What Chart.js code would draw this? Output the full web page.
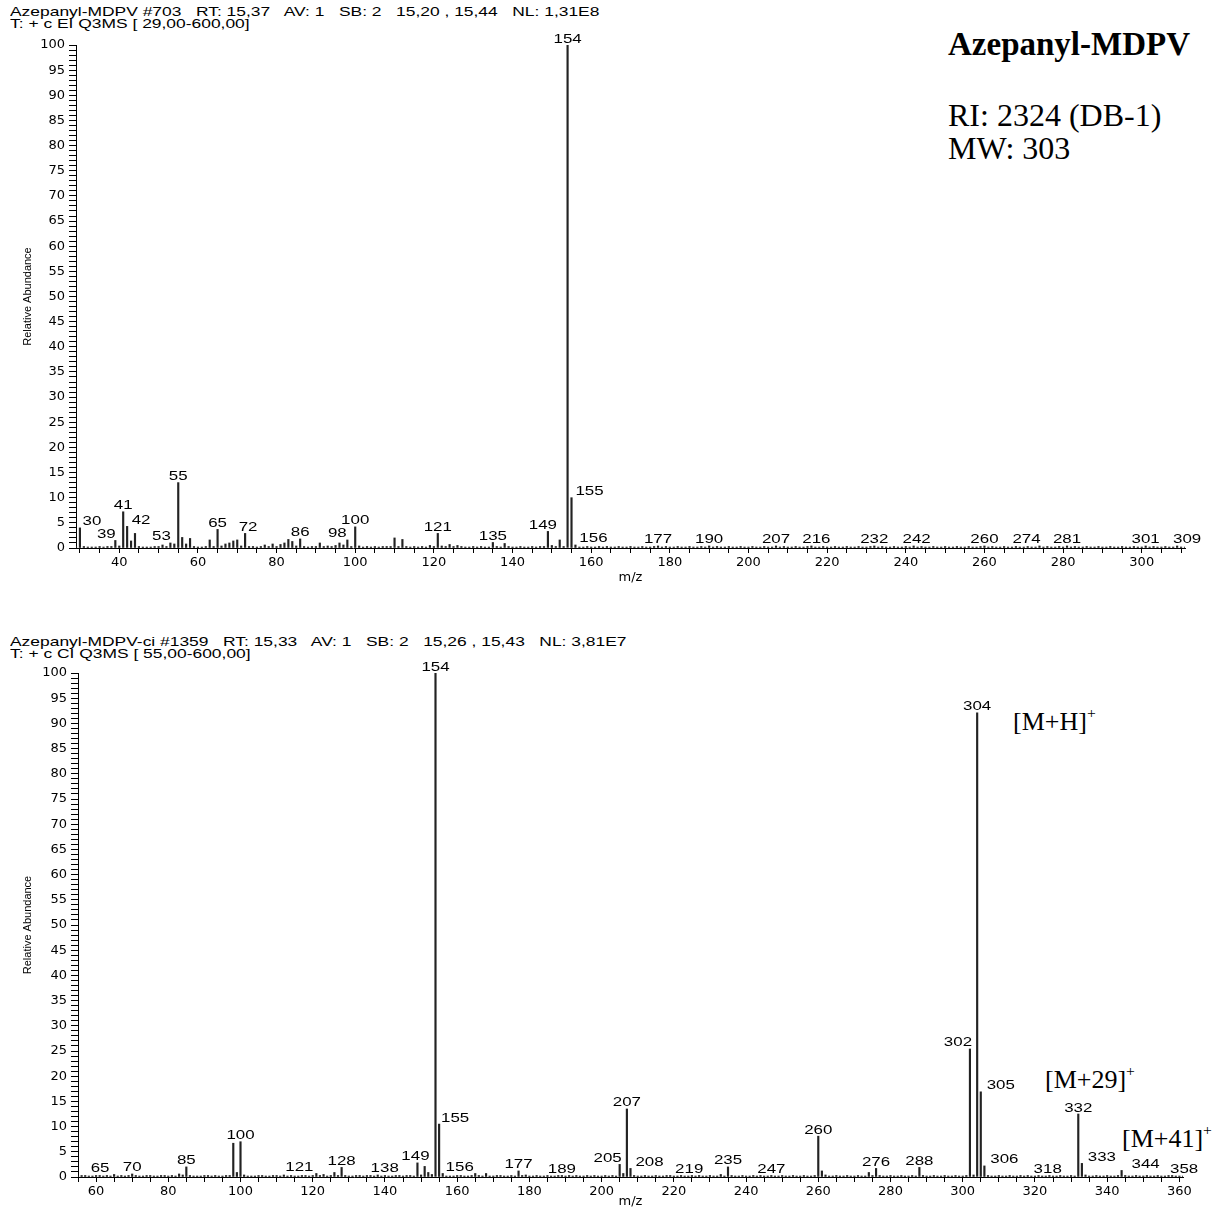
<!DOCTYPE html>
<html>
<head>
<meta charset="utf-8">
<script src="https://cdn.jsdelivr.net/npm/chart.js@4.4.0/dist/chart.umd.min.js"></script>
<style>
  body { margin: 0; background: #fff; width: 1213px; height: 1209px; position: relative; overflow: hidden; }
  canvas { position: absolute; left: 0; }
  .hdr { position: absolute; left: 10px; font: 13px "Liberation Sans", Arial, sans-serif; line-height: 12px;
         white-space: pre; color: #000; transform: scaleX(1.34); transform-origin: 0 0; }
  .note { position: absolute; font-family: "Liberation Serif", "Times New Roman", serif; line-height: 1;
          white-space: pre; color: #000; }
  .note sup { font-size: 60%; position: relative; top: -0.15em; }
</style>
</head>
<body>
<div class="hdr" style="top:6px">Azepanyl-MDPV #703   RT: 15,37   AV: 1   SB: 2   15,20 , 15,44   NL: 1,31E8</div>
<div class="hdr" style="top:18px">T: + c EI Q3MS [ 29,00-600,00]</div>
<div class="hdr" style="top:636px">Azepanyl-MDPV-ci #1359   RT: 15,33   AV: 1   SB: 2   15,26 , 15,43   NL: 3,81E7</div>
<div class="hdr" style="top:648px">T: + c CI Q3MS [ 55,00-600,00]</div>

<div class="note" style="left:948px;top:28px;font-size:33px;font-weight:bold">Azepanyl-MDPV</div>
<div class="note" style="left:948px;top:99px;font-size:32px">RI: 2324 (DB-1)</div>
<div class="note" style="left:948px;top:132px;font-size:32px">MW: 303</div>
<div class="note" style="left:1013px;top:707px;font-size:26px">[M+H]<sup>+</sup></div>
<div class="note" style="left:1045px;top:1065px;font-size:26px">[M+29]<sup>+</sup></div>
<div class="note" style="left:1122px;top:1124px;font-size:26px">[M+41]<sup>+</sup></div>

<canvas id="eiChart" width="1213" height="600" style="top:0"></canvas>
<canvas id="ciChart" width="1213" height="579" style="top:630px"></canvas>

<script>
// EI spectrum, m/z 29-311
const eiMz = [
  29, 30, 31, 32, 33, 34, 35, 36, 37, 38,
  39, 40, 41, 42, 43, 44, 45, 46, 47, 48,
  49, 50, 51, 52, 53, 54, 55, 56, 57, 58,
  59, 60, 61, 62, 63, 64, 65, 66, 67, 68,
  69, 70, 71, 72, 73, 74, 75, 76, 77, 78,
  79, 80, 81, 82, 83, 84, 85, 86, 87, 88,
  89, 90, 91, 92, 93, 94, 95, 96, 97, 98,
  99, 100, 101, 102, 103, 104, 105, 106, 107, 108,
  109, 110, 111, 112, 113, 114, 115, 116, 117, 118,
  119, 120, 121, 122, 123, 124, 125, 126, 127, 128,
  129, 130, 131, 132, 133, 134, 135, 136, 137, 138,
  139, 140, 141, 142, 143, 144, 145, 146, 147, 148,
  149, 150, 151, 152, 153, 154, 155, 156, 157, 158,
  159, 160, 161, 162, 163, 164, 165, 166, 167, 168,
  169, 170, 171, 172, 173, 174, 175, 176, 177, 178,
  179, 180, 181, 182, 183, 184, 185, 186, 187, 188,
  189, 190, 191, 192, 193, 194, 195, 196, 197, 198,
  199, 200, 201, 202, 203, 204, 205, 206, 207, 208,
  209, 210, 211, 212, 213, 214, 215, 216, 217, 218,
  219, 220, 221, 222, 223, 224, 225, 226, 227, 228,
  229, 230, 231, 232, 233, 234, 235, 236, 237, 238,
  239, 240, 241, 242, 243, 244, 245, 246, 247, 248,
  249, 250, 251, 252, 253, 254, 255, 256, 257, 258,
  259, 260, 261, 262, 263, 264, 265, 266, 267, 268,
  269, 270, 271, 272, 273, 274, 275, 276, 277, 278,
  279, 280, 281, 282, 283, 284, 285, 286, 287, 288,
  289, 290, 291, 292, 293, 294, 295, 296, 297, 298,
  299, 300, 301, 302, 303, 304, 305, 306, 307, 308,
  309, 310, 311
];
const eiAbundance = [
  0.3, 4.0, 0.3, 0.2, 0.2, 0.2, 0.3, 0.2, 0.3, 0.3,
  1.5, 0.4, 7.2, 4.3, 1.4, 2.9, 0.3, 0.2, 0.2, 0.2,
  0.3, 0.3, 0.6, 0.3, 1.0, 0.8, 13.0, 2.1, 0.8, 1.9,
  0.3, 0.2, 0.2, 0.3, 1.6, 0.3, 3.7, 0.4, 0.8, 1.0,
  1.4, 1.6, 0.4, 2.9, 0.3, 0.3, 0.2, 0.3, 0.6, 0.3,
  0.8, 0.3, 0.7, 1.0, 1.7, 1.3, 0.4, 1.8, 0.3, 0.2,
  0.3, 0.3, 1.0, 0.3, 0.4, 0.3, 0.5, 1.0, 0.6, 1.6,
  0.3, 4.2, 0.4, 0.2, 0.3, 0.2, 0.3, 0.2, 0.3, 0.3,
  0.3, 2.0, 0.3, 1.7, 0.3, 0.2, 0.3, 0.2, 0.3, 0.2,
  0.5, 0.3, 2.9, 0.4, 0.3, 0.7, 0.3, 0.5, 0.3, 0.2,
  0.2, 0.3, 0.2, 0.3, 0.2, 0.2, 1.1, 0.3, 0.2, 0.9,
  0.3, 0.2, 0.2, 0.3, 0.2, 0.2, 0.3, 0.2, 0.3, 0.3,
  3.3, 0.5, 0.3, 1.6, 0.3, 100, 10.0, 0.6, 0.2, 0.2,
  0.3, 0.2, 0.2, 0.3, 0.2, 0.3, 0.2, 0.2, 0.3, 0.2,
  0.2, 0.3, 0.2, 0.2, 0.3, 0.2, 0.2, 0.3, 0.4, 0.2,
  0.3, 0.2, 0.2, 0.3, 0.2, 0.2, 0.3, 0.2, 0.2, 0.3,
  0.2, 0.4, 0.2, 0.3, 0.2, 0.2, 0.3, 0.2, 0.2, 0.3,
  0.2, 0.2, 0.3, 0.2, 0.2, 0.3, 0.2, 0.2, 0.4, 0.2,
  0.3, 0.2, 0.2, 0.3, 0.2, 0.2, 0.3, 0.4, 0.2, 0.2,
  0.3, 0.2, 0.2, 0.3, 0.2, 0.2, 0.3, 0.2, 0.2, 0.3,
  0.2, 0.2, 0.3, 0.4, 0.2, 0.3, 0.2, 0.2, 0.3, 0.2,
  0.2, 0.3, 0.2, 0.4, 0.2, 0.3, 0.2, 0.2, 0.3, 0.2,
  0.2, 0.3, 0.2, 0.2, 0.3, 0.2, 0.2, 0.3, 0.2, 0.2,
  0.3, 0.4, 0.2, 0.3, 0.2, 0.2, 0.3, 0.2, 0.2, 0.3,
  0.2, 0.2, 0.3, 0.2, 0.2, 0.4, 0.2, 0.3, 0.2, 0.2,
  0.3, 0.2, 0.4, 0.2, 0.3, 0.2, 0.2, 0.3, 0.2, 0.2,
  0.3, 0.2, 0.2, 0.3, 0.2, 0.2, 0.3, 0.2, 0.2, 0.3,
  0.2, 0.2, 0.4, 0.2, 0.3, 0.2, 0.2, 0.3, 0.2, 0.2,
  0.4, 0.2, 0.2
];
const eiLabeled = [30, 39, 41, 42, 53, 55, 65, 72, 86, 98, 100, 121, 135, 149, 154, 155, 156,
                   177, 190, 207, 216, 232, 242, 260, 274, 281, 301, 309];

// CI spectrum, m/z 55-361
const ciMz = [
  55, 56, 57, 58, 59, 60, 61, 62, 63, 64,
  65, 66, 67, 68, 69, 70, 71, 72, 73, 74,
  75, 76, 77, 78, 79, 80, 81, 82, 83, 84,
  85, 86, 87, 88, 89, 90, 91, 92, 93, 94,
  95, 96, 97, 98, 99, 100, 101, 102, 103, 104,
  105, 106, 107, 108, 109, 110, 111, 112, 113, 114,
  115, 116, 117, 118, 119, 120, 121, 122, 123, 124,
  125, 126, 127, 128, 129, 130, 131, 132, 133, 134,
  135, 136, 137, 138, 139, 140, 141, 142, 143, 144,
  145, 146, 147, 148, 149, 150, 151, 152, 153, 154,
  155, 156, 157, 158, 159, 160, 161, 162, 163, 164,
  165, 166, 167, 168, 169, 170, 171, 172, 173, 174,
  175, 176, 177, 178, 179, 180, 181, 182, 183, 184,
  185, 186, 187, 188, 189, 190, 191, 192, 193, 194,
  195, 196, 197, 198, 199, 200, 201, 202, 203, 204,
  205, 206, 207, 208, 209, 210, 211, 212, 213, 214,
  215, 216, 217, 218, 219, 220, 221, 222, 223, 224,
  225, 226, 227, 228, 229, 230, 231, 232, 233, 234,
  235, 236, 237, 238, 239, 240, 241, 242, 243, 244,
  245, 246, 247, 248, 249, 250, 251, 252, 253, 254,
  255, 256, 257, 258, 259, 260, 261, 262, 263, 264,
  265, 266, 267, 268, 269, 270, 271, 272, 273, 274,
  275, 276, 277, 278, 279, 280, 281, 282, 283, 284,
  285, 286, 287, 288, 289, 290, 291, 292, 293, 294,
  295, 296, 297, 298, 299, 300, 301, 302, 303, 304,
  305, 306, 307, 308, 309, 310, 311, 312, 313, 314,
  315, 316, 317, 318, 319, 320, 321, 322, 323, 324,
  325, 326, 327, 328, 329, 330, 331, 332, 333, 334,
  335, 336, 337, 338, 339, 340, 341, 342, 343, 344,
  345, 346, 347, 348, 349, 350, 351, 352, 353, 354,
  355, 356, 357, 358, 359, 360, 361
];
const ciAbundance = [
  0.2, 0.3, 0.3, 0.2, 0.2, 0.3, 0.3, 0.2, 0.3, 0.2,
  0.5, 0.2, 0.3, 0.2, 0.3, 0.6, 0.3, 0.2, 0.2, 0.3,
  0.3, 0.2, 0.2, 0.3, 0.3, 0.2, 0.3, 0.2, 0.6, 0.4,
  2.0, 0.3, 0.2, 0.2, 0.2, 0.3, 0.3, 0.2, 0.3, 0.2,
  0.2, 0.3, 0.3, 6.7, 0.9, 7.0, 0.4, 0.2, 0.2, 0.2,
  0.3, 0.3, 0.2, 0.2, 0.3, 0.3, 0.2, 0.4, 0.2, 0.3,
  0.2, 0.2, 0.3, 0.3, 0.2, 0.3, 0.7, 0.3, 0.5, 0.2,
  0.3, 0.9, 0.3, 1.9, 0.3, 0.2, 0.2, 0.3, 0.3, 0.2,
  0.3, 0.3, 0.2, 0.4, 0.2, 0.3, 0.2, 0.2, 0.3, 0.3,
  0.2, 0.3, 0.3, 0.2, 2.8, 0.4, 2.1, 0.9, 0.5, 100,
  10.5, 0.7, 0.2, 0.2, 0.2, 0.3, 0.3, 0.2, 0.2, 0.3,
  0.7, 0.3, 0.2, 0.7, 0.2, 0.2, 0.3, 0.3, 0.2, 0.2,
  0.3, 0.2, 1.2, 0.3, 0.4, 0.2, 0.2, 0.3, 0.2, 0.2,
  0.3, 0.2, 0.2, 0.3, 0.3, 0.2, 0.3, 0.2, 0.3, 0.2,
  0.2, 0.3, 0.2, 0.3, 0.2, 0.2, 0.3, 0.2, 0.3, 0.2,
  2.5, 0.7, 13.5, 1.7, 0.3, 0.2, 0.2, 0.3, 0.2, 0.2,
  0.3, 0.2, 0.2, 0.3, 0.3, 0.2, 0.2, 0.3, 0.2, 0.2,
  0.3, 0.2, 0.3, 0.2, 0.2, 0.3, 0.2, 0.2, 0.5, 0.2,
  2.0, 0.3, 0.2, 0.2, 0.3, 0.2, 0.2, 0.3, 0.2, 0.3,
  0.2, 0.2, 0.3, 0.2, 0.2, 0.3, 0.2, 0.2, 0.3, 0.2,
  0.2, 0.3, 0.2, 0.2, 0.3, 8.1, 1.2, 0.4, 0.2, 0.2,
  0.3, 0.2, 0.2, 0.3, 0.2, 0.2, 0.3, 0.2, 0.2, 0.9,
  0.3, 1.7, 0.3, 0.2, 0.2, 0.3, 0.2, 0.2, 0.3, 0.2,
  0.2, 0.3, 0.2, 1.9, 0.3, 0.2, 0.2, 0.3, 0.2, 0.2,
  0.3, 0.2, 0.2, 0.3, 0.2, 0.2, 0.3, 25.4, 0.4, 92.1,
  16.9, 2.2, 0.3, 0.2, 0.2, 0.3, 0.2, 0.2, 0.3, 0.2,
  0.2, 0.3, 0.2, 0.3, 0.2, 0.2, 0.3, 0.2, 0.2, 0.3,
  0.2, 0.2, 0.3, 0.2, 0.2, 0.3, 0.2, 12.5, 2.7, 0.4,
  0.2, 0.2, 0.3, 0.2, 0.2, 0.3, 0.2, 0.2, 0.3, 1.3,
  0.3, 0.2, 0.2, 0.3, 0.2, 0.2, 0.3, 0.2, 0.2, 0.3,
  0.2, 0.2, 0.3, 0.3, 0.2, 0.2, 0.2
];
const ciLabeled = [65, 70, 85, 100, 121, 128, 138, 149, 154, 155, 156, 177, 189, 205, 207, 208,
                   219, 235, 247, 260, 276, 288, 302, 304, 305, 306, 318, 332, 333, 344, 358];

// axis ticks: minor every 5 m/z (labels every 20), minor every 1 % (labels every 5)
const mzStep = 5;
const mzLabelEvery = 20;
const abundanceStep = 1;
const abundanceLabelEvery = 5;

const sansTicks = { family: '"DejaVu Sans", sans-serif', size: 13 };

// m/z numbers above the peaks
const peakLabels = {
  id: 'peakLabels',
  afterDatasetsDraw(chart, args, opts) {
    const { ctx, scales: { x, y } } = chart;
    const pts = chart.data.datasets[0].data;
    ctx.save();
    ctx.font = '13px "Liberation Sans", Arial, sans-serif';
    ctx.fillStyle = '#000';
    ctx.textAlign = 'center';
    ctx.textBaseline = 'alphabetic';
    opts.labels.forEach(mz => {
      const p = pts.find(d => d.x === mz);
      if (!p) return;
      const px = x.getPixelForValue(mz) + (opts.shift[mz] || 0);
      const py = y.getPixelForValue(p.y) - 2.5;
      ctx.save();
      ctx.translate(px, py);
      ctx.scale(1.3, 1);
      ctx.fillText(String(mz), 0, 0);
      ctx.restore();
    });
    ctx.restore();
  }
};

function spectrum(id, mz, abundance, labeled, shift, box) {
  const points = mz.map((m, i) => ({ x: m, y: abundance[i] }));
  return new Chart(document.getElementById(id), {
    type: 'bar',
    data: {
      datasets: [{
        data: points,
        backgroundColor: '#222',
        barThickness: 1.5,
        borderWidth: 0
      }]
    },
    options: {
      responsive: false,
      animation: false,
      layout: { padding: { left: 0, right: box.right, top: box.top, bottom: 0 } },
      plugins: {
        legend: { display: false },
        tooltip: { enabled: false },
        peakLabels: { labels: labeled, shift: shift }
      },
      scales: {
        x: {
          type: 'linear',
          min: box.xMin,
          max: box.xMax,
          offset: false,
          afterFit(s) { s.height = box.xHeight; },
          grid: { display: true, drawOnChartArea: false, drawTicks: true, tickLength: 5, color: '#000', offset: false },
          border: { display: true, color: '#000', width: 1 },
          ticks: {
            stepSize: mzStep,
            includeBounds: false,
            autoSkip: false,
            maxRotation: 0,
            minRotation: 0,
            padding: 2,
            color: '#000',
            font: sansTicks,
            callback: v => (v % mzLabelEvery === 0 ? String(v) : '')
          },
          title: {
            display: true,
            text: 'm/z',
            color: '#000',
            font: { family: '"DejaVu Sans", sans-serif', size: 13 },
            padding: { top: 0, bottom: box.titlePad }
          }
        },
        y: {
          min: 0,
          max: 100,
          afterFit(s) { s.width = box.left; },
          grid: { display: true, drawOnChartArea: false, drawTicks: true, tickLength: 7, color: '#000' },
          border: { display: true, color: '#000', width: 1 },
          ticks: {
            stepSize: abundanceStep,
            autoSkip: false,
            padding: 4,
            color: '#000',
            font: sansTicks,
            callback: v => (v % abundanceLabelEvery === 0 ? String(v) : '')
          },
          title: {
            display: true,
            text: 'Relative Abundance',
            color: '#000',
            font: { family: '"Liberation Sans", Arial, sans-serif', size: 11 },
            padding: { top: 21, bottom: 0 }
          }
        }
      }
    },
    plugins: [peakLabels]
  });
}

spectrum('eiChart', eiMz, eiAbundance, eiLabeled,
  { 30: 12, 39: -9, 42: 14, 53: -9, 72: 3, 98: -10, 149: -5, 155: 18, 156: 18,
    216: 5, 242: 3, 274: -13, 309: 10 },
  { left: 76, right: 28, top: 45, xHeight: 52, xMin: 29, xMax: 311, titlePad: 15 });

spectrum('ciChart', ciMz, ciAbundance, ciLabeled,
  { 65: -14, 121: -17, 138: 7, 149: -2, 155: 16, 156: 17, 205: -12, 208: 19, 219: 19,
    302: -12, 305: 20, 306: 20, 318: 20, 333: 20, 344: 24, 358: 12 },
  { left: 78, right: 30, top: 43, xHeight: 32, xMin: 55, xMax: 361, titlePad: 0 });
</script>
</body>
</html>
